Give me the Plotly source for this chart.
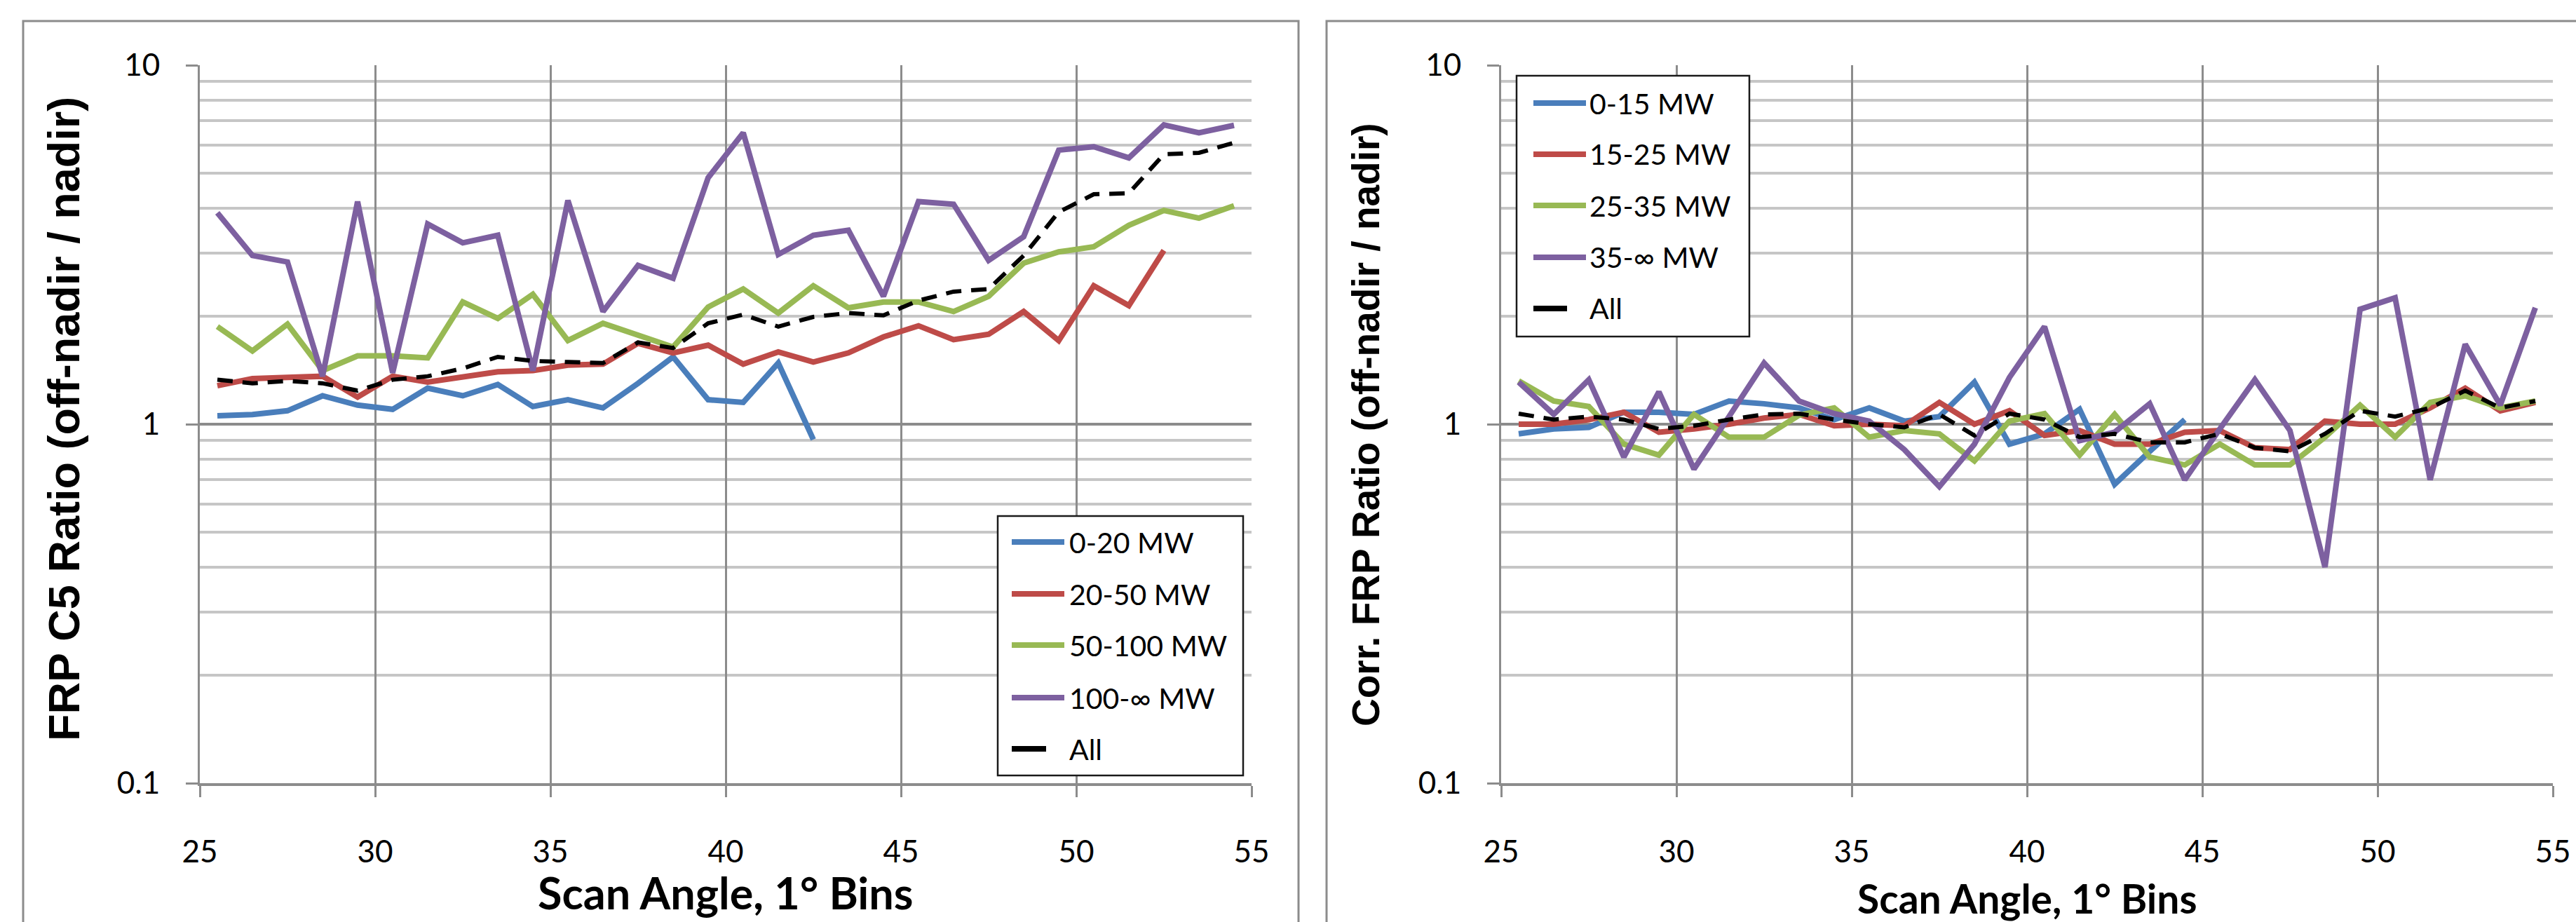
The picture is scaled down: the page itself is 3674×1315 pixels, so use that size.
import plotly.graph_objects as go

W, H = 3674, 1315

# ---------------- data ----------------
angles = [25.5, 26.5, 27.5, 28.5, 29.5, 30.5, 31.5, 32.5, 33.5, 34.5,
          35.5, 36.5, 37.5, 38.5, 39.5, 40.5, 41.5, 42.5, 43.5, 44.5,
          45.5, 46.5, 47.5, 48.5, 49.5, 50.5, 51.5, 52.5, 53.5, 54.5]

# Left chart: FRP C5 ratio
left_names = ["0-20 MW", "20-50 MW", "50-100 MW", "100-\u221e MW", "All"]
c5_0_20 = [1.055, 1.064, 1.09, 1.20, 1.13, 1.10, 1.26, 1.20, 1.29, 1.12,
           1.17, 1.11, 1.30, 1.54, 1.17, 1.15, 1.48, 0.906]
c5_20_50 = [1.28, 1.34, 1.35, 1.36, 1.19, 1.36, 1.31, 1.36, 1.40, 1.41,
            1.46, 1.47, 1.68, 1.58, 1.66, 1.47, 1.59, 1.49, 1.58, 1.75,
            1.88, 1.72, 1.78, 2.06, 1.71, 2.43, 2.14, 3.05]
c5_50_100 = [1.87, 1.60, 1.90, 1.41, 1.55, 1.55, 1.53, 2.19, 1.97, 2.30,
             1.71, 1.91, 1.77, 1.64, 2.12, 2.38, 2.04, 2.43, 2.11, 2.19,
             2.19, 2.06, 2.27, 2.81, 3.02, 3.12, 3.58, 3.94, 3.75, 4.06]
c5_100_inf = [3.88, 2.95, 2.83, 1.36, 4.17, 1.39, 3.61, 3.20, 3.36, 1.41,
              4.20, 2.06, 2.77, 2.55, 4.86, 6.48, 2.97, 3.36, 3.47, 2.27,
              4.17, 4.10, 2.86, 3.33, 5.80, 5.93, 5.52, 6.82, 6.48, 6.80]
c5_all = [1.33, 1.30, 1.32, 1.30, 1.24, 1.33, 1.36, 1.43, 1.54, 1.50,
          1.49, 1.48, 1.69, 1.63, 1.91, 2.02, 1.87, 1.99, 2.04, 2.01,
          2.21, 2.34, 2.38, 2.95, 3.90, 4.37, 4.40, 5.65, 5.70, 6.08]

# Right chart: corrected FRP ratio
right_names = ["0-15 MW", "15-25 MW", "25-35 MW", "35-\u221e MW", "All"]
corr_0_15 = [0.94, 0.97, 0.98, 1.08, 1.08, 1.065, 1.16, 1.14, 1.11, 1.03,
             1.11, 1.02, 1.05, 1.31, 0.88, 0.94, 1.10, 0.68, 0.84, 1.03]
corr_15_25 = [1.00, 1.00, 1.03, 1.08, 0.95, 0.97, 1.00, 1.04, 1.065, 0.99,
              1.00, 0.99, 1.15, 1.00, 1.09, 0.93, 0.96, 0.88, 0.88, 0.95,
              0.96, 0.86, 0.85, 1.02, 1.00, 1.00, 1.11, 1.26, 1.09, 1.15]
corr_25_35 = [1.32, 1.16, 1.12, 0.88, 0.82, 1.065, 0.92, 0.92, 1.06, 1.11,
              0.92, 0.96, 0.94, 0.79, 1.02, 1.07, 0.82, 1.065, 0.81, 0.77,
              0.88, 0.77, 0.77, 0.92, 1.13, 0.92, 1.15, 1.20, 1.11, 1.16]
corr_35_inf = [1.31, 1.065, 1.33, 0.81, 1.23, 0.75, 1.05, 1.48, 1.16, 1.07,
               1.02, 0.85, 0.67, 0.88, 1.35, 1.87, 0.90, 0.95, 1.14, 0.70,
               0.97, 1.33, 0.96, 0.40, 2.09, 2.25, 0.70, 1.67, 1.13, 2.11]
corr_all = [1.07, 1.03, 1.05, 1.03, 0.97, 0.99, 1.03, 1.065, 1.07, 1.03,
            1.00, 0.98, 1.065, 0.93, 1.07, 1.03, 0.92, 0.94, 0.89, 0.89,
            0.94, 0.86, 0.84, 0.94, 1.09, 1.05, 1.11, 1.24, 1.11, 1.16]

x_ticks = [25, 30, 35, 40, 45, 50, 55]
y_tickvals = [0.1, 1, 10]
y_ticktext = ["0.1", "1", "10"]
y_minor = [0.2, 0.3, 0.4, 0.5, 0.6, 0.7, 0.8, 0.9, 2, 3, 4, 5, 6, 7, 8, 9]

left_title_y = "FRP C5 Ratio (off-nadir / nadir)"
right_title_y = "Corr. FRP Ratio (off-nadir / nadir)"
title_x = "Scan Angle, 1\u00b0 Bins"

# ---------------- style ----------------
colors = ["#4A7EBB", "#BE4B48", "#98B954", "#7D60A0", "#000000"]
MAJ = "#8c8c8c"
MIN = "#c6c6c6"
TICKFONT = "Lato, 'Open Sans', sans-serif"
YTITLEFONT = "'Liberation Sans', Arial, sans-serif"


def px(x):
    return x / W


def py(y):
    return 1 - y / H


fig = go.Figure()

left_series = [c5_0_20, c5_20_50, c5_50_100, c5_100_inf, c5_all]
right_series = [corr_0_15, corr_15_25, corr_25_35, corr_35_inf, corr_all]

for names, series, xa, ya in [(left_names, left_series, "x", "y"),
                              (right_names, right_series, "x2", "y2")]:
    for i, (nm, vals) in enumerate(zip(names, series)):
        is_all = (i == 4)
        fig.add_trace(go.Scatter(
            x=angles[:len(vals)], y=vals, name=nm, mode="lines",
            xaxis=xa, yaxis=ya, showlegend=False,
            line=dict(color=colors[i], width=6 if is_all else 8,
                      dash="22px,14px" if is_all else "solid"),
        ))


def xaxis_cfg(x0, x1, standoff):
    return dict(
        domain=[px(x0), px(x1)], range=[25, 55], tickvals=x_ticks,
        showgrid=True, gridcolor=MAJ, gridwidth=3,
        ticks="outside", ticklen=16, tickwidth=3, tickcolor=MAJ,
        showline=True, linecolor=MAJ, linewidth=4, zeroline=False,
        tickfont=dict(family=TICKFONT, size=44, color="black"),
        ticklabelstandoff=standoff, fixedrange=True, automargin=False,
    )


def yaxis_cfg(anchor):
    return dict(
        type="log", range=[-1, 1], domain=[py(1117), py(93)],
        tickvals=y_tickvals, ticktext=y_ticktext, anchor=anchor,
        showgrid=True, gridcolor=MAJ, gridwidth=4,
        minor=dict(tickvals=y_minor, showgrid=True, gridcolor=MIN,
                   gridwidth=4, ticks=""),
        ticks="outside", ticklen=17, tickwidth=3, tickcolor=MAJ,
        showline=True, linecolor=MAJ, linewidth=3, zeroline=False,
        tickfont=dict(family=TICKFONT, size=44, color="black"),
        ticklabelstandoff=28, fixedrange=True, automargin=False,
    )


fig.update_layout(
    width=W, height=H,
    margin=dict(l=0, r=0, t=0, b=0, pad=0, autoexpand=False),
    paper_bgcolor="white", plot_bgcolor="white", showlegend=False,
    xaxis=xaxis_cfg(285, 1785, 40), yaxis=yaxis_cfg("x"),
    xaxis2=xaxis_cfg(2141, 3641, 40), yaxis2=yaxis_cfg("x2"),
)

shapes = []
annotations = []

# outer chart frames
shapes.append(dict(type="rect", xref="paper", yref="paper",
                   x0=px(33), x1=px(1852), y0=-0.05, y1=py(30),
                   line=dict(color="#8c8c8c", width=3), layer="below"))
shapes.append(dict(type="rect", xref="paper", yref="paper",
                   x0=px(1892), x1=1.05, y0=-0.05, y1=py(30),
                   line=dict(color="#8c8c8c", width=3), layer="below"))

# axis titles
annotations.append(dict(text=left_title_y, xref="paper", yref="paper",
                        x=px(91), y=py(598), xanchor="center", yanchor="middle",
                        textangle=-90, showarrow=False,
                        font=dict(family=YTITLEFONT, size=63, color="black",
                                  weight="bold")))
annotations.append(dict(text=right_title_y, xref="paper", yref="paper",
                        x=px(1948), y=py(606), xanchor="center", yanchor="middle",
                        textangle=-90, showarrow=False,
                        font=dict(family=YTITLEFONT, size=55, color="black",
                                  weight="bold")))
annotations.append(dict(text=title_x, xref="paper", yref="paper",
                        x=px(1035), y=py(1272), xanchor="center", yanchor="middle",
                        showarrow=False,
                        font=dict(family=TICKFONT, size=63, color="black",
                                  weight="bold")))
annotations.append(dict(text=title_x, xref="paper", yref="paper",
                        x=px(2891), y=py(1281), xanchor="center", yanchor="middle",
                        showarrow=False,
                        font=dict(family=TICKFONT, size=57, color="black",
                                  weight="bold")))


def add_legend(names, box, rows, sx0, sx1, sx1_all, tx):
    bx0, bx1, by0, by1 = box
    shapes.append(dict(type="rect", xref="paper", yref="paper",
                       x0=px(bx0), x1=px(bx1), y0=py(by1), y1=py(by0),
                       line=dict(color="#1a1a1a", width=2.5),
                       fillcolor="white", layer="above"))
    for i, (nm, ry) in enumerate(zip(names, rows)):
        end = sx1_all if i == 4 else sx1
        shapes.append(dict(type="line", xref="paper", yref="paper",
                           x0=px(sx0), x1=px(end), y0=py(ry), y1=py(ry),
                           line=dict(color=colors[i], width=8), layer="above"))
        annotations.append(dict(text=nm, xref="paper", yref="paper",
                                x=px(tx), y=py(ry), xanchor="left",
                                yanchor="middle", showarrow=False,
                                font=dict(family=TICKFONT, size=41,
                                          color="black")))


add_legend(left_names, (1423, 1773, 736, 1106),
           [773, 847, 920, 995, 1068], 1443, 1518, 1492, 1523)
add_legend(right_names, (2163, 2495, 108, 480),
           [147, 220, 293, 367, 440], 2187, 2262, 2235, 2265)

fig.update_layout(shapes=shapes, annotations=annotations)

fig.write_html("out.html")
